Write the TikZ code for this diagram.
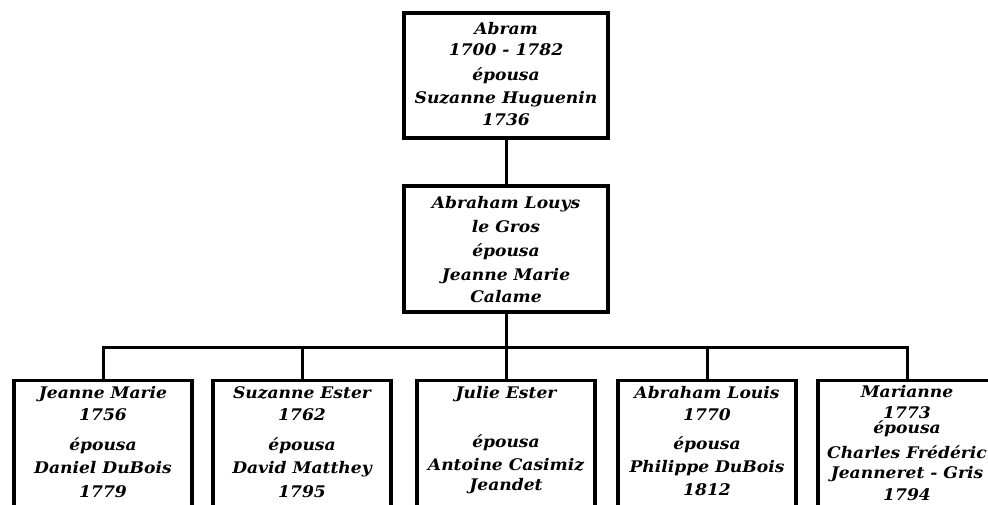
\documentclass[tikz,border=0pt]{standalone}
\usepackage{fontspec}
\setmainfont[FakeStretch=1.07]{DejaVu Serif}
\begin{document}
\begin{tikzpicture}[x=1pt,y=-1pt,
  box/.style={draw, line width=3.2pt, inner sep=0pt, fill=white},
  kid/.style={box, minimum width=178pt, minimum height=160pt},
  txt/.style={font=\fontsize{16}{22}\selectfont\bfseries\itshape, align=center, anchor=north, inner sep=0pt},
  link/.style={line width=3pt, line join=miter}]
\useasboundingbox (0,0) rectangle (988,504);
\clip (0,0) rectangle (988,504);
% top
\node[box, minimum width=204pt, minimum height=125pt] (top) at (506,75.5) {};
\node[txt] (ttop) at (506,22) {Abram\\[-1pt]1700 - 1782\\[3pt]épousa\\[1pt]Suzanne Huguenin\\1736};
% middle
\node[box, minimum width=204pt, minimum height=126pt] (mid) at (506,249) {};
\node[txt] (tmid) at (506,196) {Abraham Louys\\[2pt]le Gros\\[2pt]épousa\\[2pt]Jeanne Marie\\Calame};
% children
\node[kid, anchor=north] (b1) at (103,379) {};
\node[kid, anchor=north] (b2) at (302,379) {};
\node[kid, anchor=north] (b3) at (506,379) {};
\node[kid, anchor=north] (b4) at (707,379) {};
\node[kid, anchor=north] (b5) at (907,379) {};
\node[txt] (t1) at (103,386) {Jeanne Marie\\1756\\[8pt]épousa\\[1pt]Daniel DuBois\\[2pt]1779};
\node[txt] (t2) at (302,386) {Suzanne Ester\\1762\\[8pt]épousa\\[1pt]David Matthey\\[2pt]1795};
\node[txt] (t3) at (506,386) {Julie Ester\\[27pt]épousa\\[1pt]Antoine Casimiz\\[-2pt]Jeandet};
\node[txt] (t4) at (707,386) {Abraham Louis\\1770\\[7pt]épousa\\[1pt]Philippe DuBois\\[1pt]1812};
\node[txt] (t5) at (907,385) {Marianne\\[-1pt]1773\\[-7pt]épousa\\[3pt]Charles Frédéric\\[-2pt]Jeanneret - Gris\\1794};
% connectors
\coordinate (bus) at (506,347);
\draw[link] (top.south) -- (mid.north);
\draw[link] (mid.south) -- (bus);
\draw[link] (b1.north) -- (b1.north |- bus) -- (b5.north |- bus) -- (b5.north);
\draw[link] (b2.north) -- (b2.north |- bus);
\draw[link] (b3.north) -- (b3.north |- bus);
\draw[link] (b4.north) -- (b4.north |- bus);
\end{tikzpicture}
\end{document}
